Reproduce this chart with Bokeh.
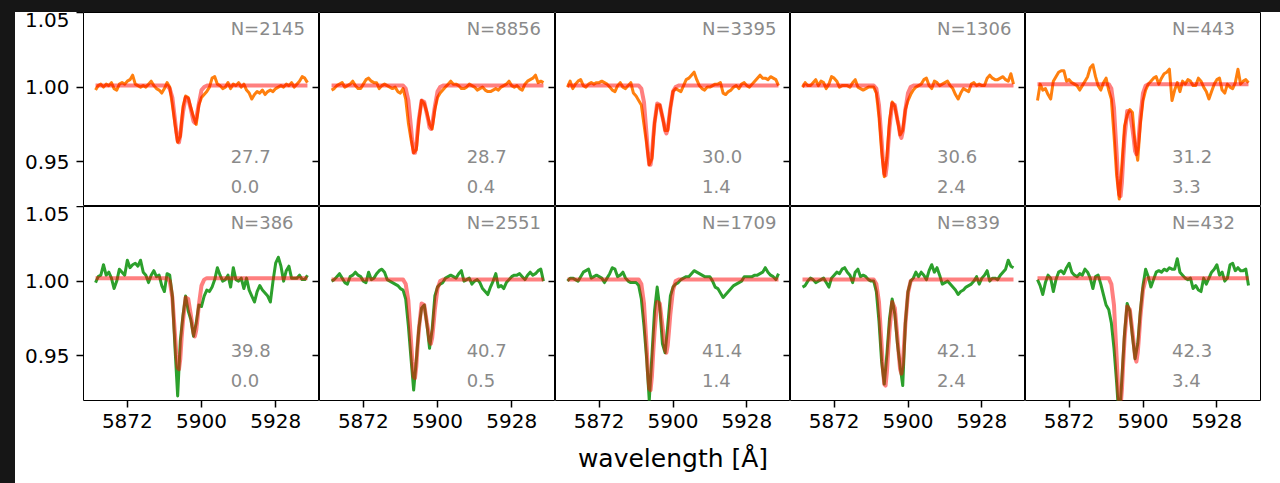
from bokeh.plotting import figure
from bokeh.models import Range1d, LinearAxis, FixedTicker, PrintfTickFormatter, Spacer
from bokeh.layouts import row, column
from bokeh.embed import file_html
from bokeh.resources import INLINE
from bokeh.core.properties import value

# ---------------- data ----------------
wave = [5860, 5861, 5862, 5863, 5864, 5865, 5866, 5867, 5868, 5869,
        5870, 5871, 5872, 5873, 5874, 5875, 5876, 5877, 5878, 5879,
        5880, 5881, 5882, 5883, 5884, 5885, 5886, 5887, 5888, 5889,
        5890, 5891, 5892, 5893, 5894, 5895, 5896, 5897, 5898, 5899,
        5900, 5901, 5902, 5903, 5904, 5905, 5906, 5907, 5908, 5909,
        5910, 5911, 5912, 5913, 5914, 5915, 5916, 5917, 5918, 5919,
        5920, 5921, 5922, 5923, 5924, 5925, 5926, 5927, 5928, 5929,
        5930, 5931, 5932, 5933, 5934, 5935, 5936, 5937, 5938, 5939,
        5940]

flux_a1 = [0.998, 1.001, 1.002, 1.000, 1.002, 1.001, 1.003, 0.999, 0.998, 1.002,
           1.003, 1.002, 1.004, 1.005, 1.008, 1.002, 1.001, 1.000, 1.001, 1.000,
           1.002, 1.004, 1.001, 0.999, 0.998, 0.996, 0.999, 1.003, 1.000, 0.988,
           0.975, 0.963, 0.967, 0.987, 0.994, 0.993, 0.986, 0.980, 0.975, 0.988,
           0.993, 0.995, 0.997, 1.000, 1.006, 1.007, 1.002, 1.001, 0.999, 1.000,
           1.003, 0.999, 1.002, 1.001, 1.003, 1.000, 1.002, 0.998, 0.996, 0.992,
           0.995, 0.997, 0.996, 0.998, 0.995, 0.997, 0.998, 0.997, 0.999, 1.000,
           1.001, 1.000, 1.002, 1.001, 1.003, 1.000, 1.002, 1.004, 1.007, 1.006,
           1.003]
flux_a2 = [0.998, 0.999, 1.001, 1.002, 1.003, 1.000, 1.001, 1.002, 1.004, 1.001,
           0.999, 0.999, 1.002, 1.005, 1.006, 1.004, 1.003, 1.003, 0.999, 1.001,
           1.002, 1.001, 1.000, 0.999, 1.000, 0.997, 0.996, 0.999, 0.992, 0.976,
           0.965, 0.956, 0.958, 0.978, 0.991, 0.989, 0.983, 0.975, 0.972, 0.985,
           0.993, 0.996, 0.998, 1.000, 1.002, 1.004, 1.002, 1.002, 1.001, 0.999,
           0.999, 1.000, 1.002, 1.001, 1.000, 0.998, 0.999, 1.000, 0.998, 0.997,
           0.997, 0.998, 0.999, 0.998, 1.000, 1.001, 1.002, 1.004, 1.001, 1.000,
           1.001, 0.999, 0.998, 1.002, 1.004, 1.005, 1.006, 1.008, 1.003, 1.004,
           1.003]
flux_a3 = [1.000, 1.004, 0.999, 1.002, 1.004, 1.005, 1.001, 1.000, 1.002, 1.003,
           1.002, 1.003, 1.003, 1.004, 1.003, 1.002, 1.000, 0.998, 0.997, 1.001,
           1.003, 1.000, 0.999, 1.001, 1.003, 0.996, 0.994, 0.991, 0.988, 0.975,
           0.962, 0.948, 0.952, 0.976, 0.988, 0.988, 0.980, 0.971, 0.971, 0.986,
           0.997, 0.999, 0.998, 0.997, 1.001, 1.005, 1.006, 1.008, 1.010, 1.005,
           1.001, 0.999, 0.998, 1.000, 1.000, 1.001, 1.002, 1.002, 1.003, 0.996,
           0.995, 0.997, 0.998, 1.000, 1.001, 0.999, 1.002, 1.003, 1.001, 1.000,
           1.002, 1.004, 1.006, 1.008, 1.006, 1.006, 1.005, 1.007, 1.006, 1.005,
           1.001]
flux_a4 = [1.000, 1.003, 1.001, 1.001, 1.003, 1.005, 1.001, 1.004, 1.003, 0.999,
           1.002, 1.007, 1.006, 1.004, 1.000, 1.001, 1.001, 1.001, 1.000, 1.003,
           1.005, 1.000, 0.999, 0.998, 0.999, 1.000, 1.000, 1.000, 0.996, 0.980,
           0.957, 0.940, 0.953, 0.978, 0.990, 0.987, 0.978, 0.968, 0.971, 0.985,
           0.991, 0.995, 0.998, 1.000, 1.001, 1.002, 1.005, 1.006, 1.001, 0.999,
           1.004, 1.003, 1.001, 1.002, 1.003, 1.004, 1.001, 0.999, 0.995, 0.992,
           0.996, 0.999, 0.998, 0.997, 1.002, 1.003, 1.001, 1.002, 1.001, 1.001,
           1.006, 1.008, 1.006, 1.005, 1.005, 1.006, 1.007, 1.005, 1.004, 1.009,
           1.002]
flux_a5 = [0.991, 1.002, 0.998, 0.999, 0.995, 0.992, 1.004, 1.007, 1.010, 1.011,
           1.011, 1.004, 1.005, 1.003, 1.002, 1.001, 0.998, 1.001, 1.004, 1.007,
           1.013, 1.015, 1.007, 1.001, 0.998, 1.003, 1.006, 0.998, 0.992, 0.968,
           0.941, 0.925, 0.948, 0.974, 0.981, 0.985, 0.983, 0.962, 0.951, 0.975,
           0.991, 0.998, 1.002, 1.004, 1.006, 1.007, 1.002, 1.006, 1.009, 1.010,
           1.012, 0.991, 0.998, 1.003, 0.997, 1.004, 1.002, 1.005, 1.004, 1.001,
           1.001, 1.006, 1.004, 1.000, 0.997, 0.992, 0.997, 1.002, 1.005, 1.006,
           0.998, 0.996, 1.002, 1.000, 0.999, 1.003, 1.012, 1.002, 1.004, 1.005,
           1.003]
flux_b1 = [0.999, 1.003, 1.004, 1.011, 1.004, 1.006, 1.002, 0.995, 1.000, 1.008,
           1.006, 1.004, 1.014, 1.009, 1.011, 1.012, 1.010, 1.014, 1.006, 1.004,
           0.999, 1.004, 1.007, 1.003, 1.004, 0.997, 0.993, 1.005, 1.004, 0.990,
           0.955, 0.923, 0.960, 0.977, 0.990, 0.980, 0.974, 0.963, 0.972, 0.984,
           0.983, 0.990, 0.994, 0.993, 0.996, 1.001, 1.009, 1.004, 1.000, 1.001,
           1.004, 0.996, 1.009, 1.001, 1.000, 1.002, 0.995, 1.002, 0.994, 0.990,
           0.986, 0.993, 0.997, 0.994, 0.992, 0.990, 0.986, 1.000, 1.012, 1.016,
           1.010, 1.000, 1.007, 1.010, 1.002, 1.002, 1.002, 1.004, 1.001, 1.001,
           1.004]
flux_b2 = [1.000, 1.001, 1.003, 1.005, 1.002, 0.999, 0.998, 1.003, 1.004, 1.006,
           1.004, 1.003, 1.000, 0.999, 1.006, 1.001, 1.002, 1.005, 1.007, 1.008,
           1.006, 1.001, 1.000, 0.999, 0.998, 0.997, 0.995, 0.994, 0.988, 0.970,
           0.948, 0.927, 0.947, 0.969, 0.982, 0.984, 0.971, 0.955, 0.968, 0.990,
           0.996, 0.998, 0.999, 1.002, 1.003, 1.004, 1.003, 1.002, 1.005, 1.007,
           1.000, 1.001, 1.002, 0.998, 1.000, 1.001, 0.999, 0.995, 0.993, 0.991,
           0.996, 1.000, 1.005, 0.996, 0.997, 0.995, 0.999, 1.001, 1.003, 1.004,
           1.004, 1.005, 1.003, 1.001, 1.004, 1.006, 1.004, 1.005, 1.007, 1.008,
           1.000]
flux_b3 = [1.000, 1.002, 1.002, 1.001, 1.000, 1.003, 1.006, 1.007, 1.008, 1.002,
           1.003, 1.004, 1.003, 1.002, 0.999, 1.002, 1.005, 1.009, 1.008, 1.003,
           1.004, 1.006, 1.002, 1.000, 0.999, 0.999, 0.999, 0.997, 0.988, 0.970,
           0.948, 0.920, 0.950, 0.980, 0.996, 0.982, 0.958, 0.952, 0.970, 0.990,
           0.996, 0.998, 0.999, 1.001, 1.002, 1.003, 1.003, 1.005, 1.007, 1.006,
           1.005, 1.004, 1.003, 1.003, 1.003, 1.000, 0.996, 0.995, 0.992, 0.989,
           0.991, 0.993, 0.995, 0.997, 0.998, 0.999, 1.000, 1.003, 1.003, 1.003,
           1.003, 1.004, 1.004, 1.005, 1.006, 1.009, 1.006, 1.004, 1.003, 1.001,
           1.005]
flux_b4 = [0.996, 0.997, 1.000, 1.002, 1.001, 0.999, 1.000, 1.001, 1.002, 0.999,
           0.996, 1.002, 1.004, 1.006, 1.005, 1.008, 1.009, 1.006, 1.004, 0.999,
           1.006, 1.008, 1.003, 1.004, 1.003, 1.001, 1.000, 1.000, 0.993, 0.973,
           0.946, 0.931, 0.951, 0.975, 0.988, 0.978, 0.958, 0.943, 0.930, 0.972,
           0.993, 1.000, 1.002, 1.006, 1.003, 1.006, 1.004, 1.001, 1.007, 1.011,
           1.006, 1.009, 1.004, 0.998, 0.999, 1.000, 0.998, 0.996, 0.994, 0.991,
           0.993, 0.994, 0.996, 0.997, 0.998, 1.000, 1.003, 0.998, 1.002, 1.004,
           1.007, 1.000, 1.002, 1.002, 1.001, 1.004, 1.006, 1.008, 1.014, 1.010,
           1.009]
flux_b5 = [1.001, 0.997, 0.991, 0.999, 1.004, 1.002, 0.993, 1.001, 1.006, 1.007,
           1.005, 1.009, 1.012, 1.006, 1.004, 1.003, 1.005, 1.004, 1.008, 1.006,
           1.002, 0.995, 1.003, 1.004, 0.998, 0.991, 0.984, 0.981, 0.972, 0.955,
           0.932, 0.905, 0.935, 0.965, 0.985, 0.980, 0.963, 0.948, 0.958, 0.980,
           0.997, 1.008, 1.003, 0.996, 1.001, 1.006, 1.007, 1.006, 1.008, 1.007,
           1.009, 1.008, 1.008, 1.015, 1.006, 1.004, 1.002, 1.001, 1.002, 0.995,
           0.997, 0.994, 0.993, 1.002, 0.998, 1.002, 1.006, 1.008, 1.011, 1.004,
           1.006, 1.000, 1.002, 1.011, 1.012, 1.007, 1.009, 1.007, 1.007, 1.008,
           0.997]

model_wave = [5860, 5886, 5887, 5888, 5889, 5890, 5890.5, 5891, 5891.5, 5892,
              5892.5, 5893, 5894, 5895, 5896, 5896.5, 5897, 5897.5, 5898, 5898.5,
              5899, 5900, 5901, 5902, 5903, 5940]
model_a1 = [1.001, 1.001, 1.001, 0.999, 0.993, 0.978, 0.970, 0.964, 0.963, 0.968,
            0.976, 0.983, 0.993, 0.992, 0.985, 0.981, 0.977, 0.976, 0.979, 0.984,
            0.989, 0.998, 1.000, 1.001, 1.001, 1.001]
model_a2 = [1.001, 1.001, 1.001, 0.999, 0.991, 0.973, 0.963, 0.956, 0.956, 0.961,
            0.971, 0.979, 0.991, 0.990, 0.982, 0.978, 0.973, 0.972, 0.975, 0.981,
            0.987, 0.997, 1.000, 1.001, 1.001, 1.001]
model_a3 = [1.001, 1.001, 1.001, 0.999, 0.990, 0.968, 0.956, 0.948, 0.948, 0.954,
            0.966, 0.976, 0.989, 0.988, 0.980, 0.976, 0.971, 0.969, 0.972, 0.979,
            0.986, 0.997, 1.000, 1.001, 1.001, 1.001]
model_a4 = [1.001, 1.001, 1.001, 0.999, 0.988, 0.964, 0.951, 0.942, 0.941, 0.948,
            0.961, 0.973, 0.989, 0.988, 0.978, 0.974, 0.968, 0.966, 0.970, 0.977,
            0.985, 0.996, 1.000, 1.001, 1.001, 1.001]
model_a5 = [1.002, 1.002, 1.002, 0.999, 0.986, 0.956, 0.939, 0.928, 0.927, 0.936,
            0.952, 0.966, 0.984, 0.983, 0.972, 0.965, 0.957, 0.955, 0.960, 0.969,
            0.980, 0.996, 1.001, 1.002, 1.002, 1.002]
model_b1 = [1.002, 1.002, 1.002, 1.000, 0.989, 0.964, 0.951, 0.942, 0.941, 0.948,
            0.962, 0.973, 0.989, 0.988, 0.977, 0.971, 0.965, 0.963, 0.967, 0.975,
            0.984, 0.997, 1.001, 1.002, 1.002, 1.002]
model_b2 = [1.001, 1.001, 1.001, 0.998, 0.987, 0.960, 0.946, 0.936, 0.935, 0.943,
            0.957, 0.968, 0.985, 0.984, 0.972, 0.967, 0.960, 0.958, 0.962, 0.971,
            0.981, 0.995, 1.000, 1.001, 1.001, 1.001]
model_b3 = [1.001, 1.001, 1.001, 0.998, 0.985, 0.956, 0.939, 0.928, 0.927, 0.936,
            0.952, 0.966, 0.986, 0.985, 0.970, 0.962, 0.954, 0.952, 0.957, 0.967,
            0.978, 0.994, 1.000, 1.001, 1.001, 1.001]
model_b4 = [1.001, 1.001, 1.001, 0.998, 0.986, 0.957, 0.941, 0.931, 0.930, 0.939,
            0.954, 0.967, 0.986, 0.982, 0.962, 0.951, 0.941, 0.938, 0.944, 0.957,
            0.971, 0.992, 1.000, 1.001, 1.001, 1.001]
model_b5 = [1.002, 1.002, 1.002, 0.998, 0.984, 0.949, 0.930, 0.917, 0.916, 0.927,
            0.945, 0.961, 0.983, 0.981, 0.966, 0.958, 0.949, 0.946, 0.952, 0.963,
            0.976, 0.994, 1.001, 1.002, 1.002, 1.002]

n_top = ["N=2145", "N=8856", "N=3395", "N=1306", "N=443"]
val1_top = ["27.7", "28.7", "30.0", "30.6", "31.2"]
val2_top = ["0.0", "0.4", "1.4", "2.4", "3.3"]
n_bottom = ["N=386", "N=2551", "N=1709", "N=839", "N=432"]
val1_bottom = ["39.8", "40.7", "41.4", "42.1", "42.3"]
val2_bottom = ["0.0", "0.5", "1.4", "2.4", "3.4"]

x_ticks = [5872, 5900, 5928]
y_ticks = [0.95, 1.00, 1.05]
x_label = "wavelength [Å]"

flux_top = [flux_a1, flux_a2, flux_a3, flux_a4, flux_a5]
flux_bottom = [flux_b1, flux_b2, flux_b3, flux_b4, flux_b5]
model_top = [model_a1, model_a2, model_a3, model_a4, model_a5]
model_bottom = [model_b1, model_b2, model_b3, model_b4, model_b5]

# ---------------- style ----------------
FRAME_W = [236, 236, 235, 235, 235]
FRAME_H = 194
FONT = "DejaVu Sans"
GRAY = "#8a8a8a"
DARK = "#161616"
LABEL_X = 5911
LABEL_Y = [1.0395, 0.9535, 0.9335]


def make_panel(r, c, flux, model, labels, color):
    bottom = (r == 1)
    p = figure(frame_width=FRAME_W[c], frame_height=FRAME_H,
               x_range=Range1d(5855.45, 5944.55), y_range=Range1d(0.92, 1.05),
               output_backend="svg", toolbar_location=None, tools="",
               min_border_left=68 if c == 0 else 0,
               min_border_right=20 if c == 4 else 0,
               min_border_top=0,
               min_border_bottom=83 if bottom else 0,
               x_axis_location="below" if bottom else None,
               y_axis_location="left" if c == 0 else None,
               background_fill_color="white", border_fill_color="white",
               outline_line_color="black", outline_line_width=1)
    p.xgrid.visible = False
    p.ygrid.visible = False

    if c == 0:
        ax = p.yaxis[0]
        ax.ticker = FixedTicker(ticks=y_ticks)
        ax.formatter = PrintfTickFormatter(format="%.2f")
        ax.major_tick_out = 7
        ax.major_tick_in = 0
        ax.minor_tick_line_color = None
        ax.axis_line_color = None
        ax.major_tick_line_width = 1.5
        ax.major_label_text_font = FONT
        ax.major_label_text_font_size = "20px"
        ax.major_label_text_color = "black"
        ax.major_label_standoff = 7
    if bottom:
        ax = p.xaxis[0]
        ax.ticker = FixedTicker(ticks=x_ticks)
        ax.formatter = PrintfTickFormatter(format="%d")
        ax.major_tick_out = 7
        ax.major_tick_in = 0
        ax.minor_tick_line_color = None
        ax.axis_line_color = None
        ax.major_tick_line_width = 1.5
        ax.major_label_text_font = FONT
        ax.major_label_text_font_size = "20px"
        ax.major_label_text_color = "black"
        ax.major_label_standoff = 6
        if c == 2:
            ax.axis_label = x_label
            ax.axis_label_text_font = FONT
            ax.axis_label_text_font_size = "25px"
            ax.axis_label_text_font_style = "normal"
            ax.axis_label_text_color = "black"
            ax.axis_label_standoff = 13
    if c < 4:
        rax = LinearAxis(ticker=FixedTicker(ticks=[0.95, 1.00]),
                         major_tick_in=7, major_tick_out=0,
                         minor_tick_line_color=None, axis_line_color=None,
                         major_tick_line_width=1.5,
                         major_label_text_font_size="0px",
                         major_label_text_color=None,
                         major_label_standoff=0)
        p.add_layout(rax, "right")

    p.line(wave, flux, line_width=3, color=color, line_join="round")
    p.line(model_wave, model, line_width=4, color="red", alpha=0.5, line_join="round")

    p.text(x=[LABEL_X] * 3, y=LABEL_Y, text=labels,
           text_font=value(FONT), text_font_size="18px", text_color=GRAY,
           text_align="left", text_baseline="alphabetic")
    return p


top_figs = []
bottom_figs = []
for c in range(5):
    top_figs.append(make_panel(0, c, flux_top[c], model_top[c],
                               [n_top[c], val1_top[c], val2_top[c]], "#ff7f0e"))
    bottom_figs.append(make_panel(1, c, flux_bottom[c], model_bottom[c],
                                  [n_bottom[c], val1_bottom[c], val2_bottom[c]], "#2ca02c"))

grid = column(row(*top_figs), row(*bottom_figs))
page = column(
    Spacer(width=1280, height=12, styles={"background-color": DARK}),
    row(Spacer(width=15, height=471, styles={"background-color": DARK}), grid),
)

open("out.html", "w").write(file_html(page, INLINE))
